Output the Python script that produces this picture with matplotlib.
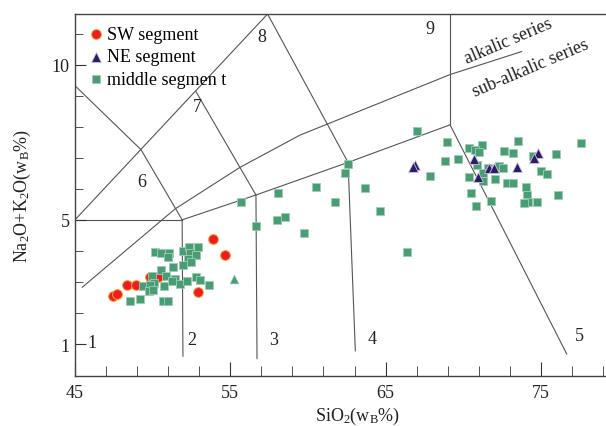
import matplotlib
matplotlib.use("Agg")
import matplotlib.pyplot as plt
from matplotlib.ticker import FixedLocator

plt.rcParams['font.family'] = ['Liberation Serif', 'DejaVu Serif']
plt.rcParams['mathtext.fontset'] = 'custom'
plt.rcParams['mathtext.rm'] = 'Liberation Serif'
plt.rcParams['mathtext.it'] = 'Liberation Serif:italic'

# samples (SiO2, Na2O+K2O)
sw_x = [53.87, 54.66, 52.94, 48.37, 48.91, 47.47, 47.69, 49.83, 50.36]
sw_y = [4.38, 3.86, 2.67, 2.90, 2.90, 2.54, 2.61, 3.17, 3.17]

ne_x = [66.89, 66.78, 70.71, 71.66, 72.00, 70.97, 73.48, 74.79, 74.58]
ne_y = [6.78, 6.71, 6.96, 6.67, 6.67, 6.37, 6.71, 7.14, 6.98]

mid_x = [50.15, 50.54, 51.07, 50.97, 51.97, 52.34, 52.94, 52.40, 52.79, 52.30,
         52.47, 51.93, 51.29, 50.52, 49.94, 50.84, 51.44, 51.23, 51.76, 52.19,
         52.77, 53.05, 53.63, 49.40, 50.11, 49.83, 50.75, 49.78, 50.04, 48.54,
         49.17, 50.69, 51.01,
         55.67, 58.05, 60.50, 56.64, 57.99, 58.52, 59.75, 61.72, 62.56, 62.39,
         63.65, 64.64, 66.36,
         67.00, 68.93, 68.83, 69.64, 67.86, 70.37, 71.19, 70.76, 71.01, 70.87,
         72.62, 73.18, 73.51, 74.47, 75.95, 77.56, 71.61, 72.32, 72.58, 71.29,
         70.37, 72.04, 71.25, 72.80, 73.18, 74.99, 75.37, 74.02, 70.48, 74.09,
         76.08, 71.77, 74.15, 73.91, 74.73, 70.80]
mid_y = [3.95, 3.92, 3.93, 3.79, 3.99, 4.12, 4.12, 3.92, 3.87, 3.74,
         3.63, 3.55, 3.47, 3.38, 3.20, 3.18, 3.09, 3.02, 2.93, 3.02,
         3.15, 3.06, 2.90, 2.86, 2.96, 2.90, 2.86, 2.70, 2.75, 2.38,
         2.44, 2.38, 2.38,
         5.57, 5.86, 6.05, 4.79, 4.99, 5.08, 4.57, 5.57, 6.79, 6.50,
         6.02, 5.28, 3.95,
         7.85, 7.50, 6.89, 6.95, 6.40, 7.30, 7.42, 7.25, 7.18, 6.78,
         7.21, 7.14, 7.53, 7.05, 7.11, 7.47, 6.67, 6.74, 6.67, 6.50,
         6.37, 6.32, 6.24, 6.18, 6.18, 6.56, 6.48, 6.05, 5.86, 5.80,
         5.79, 5.60, 5.58, 5.53, 5.57, 5.44]

# one middle-segment sample drawn as a green triangle
mid_tri_x = [55.24]
mid_tri_y = [3.09]

# field boundaries of the classification diagram
boundaries = [
    ([45.0, 49.25, 51.9], [9.32, 7.26, 5.0]),
    ([45.0, 57.4], [5.0, 11.63]),
    ([45.0, 51.9], [5.0, 5.0]),
    ([52.79, 56.65], [9.13, 5.80]),
    ([57.4, 62.58], [11.63, 6.85]),
    ([51.9, 56.65, 62.58, 69.15], [5.0, 5.80, 6.85, 8.06]),
    ([69.15, 69.15], [8.06, 11.63]),
    ([69.15, 76.66], [8.06, 0.68]),
    ([51.9, 51.95], [5.0, 0.61]),
    ([56.65, 56.72], [5.80, 0.53]),
    ([62.58, 63.05], [6.85, 0.78]),
]
# alkalic / sub-alkalic divide
divide_x = [45.47, 51.44, 55.62, 59.49, 69.15, 73.76]
divide_y = [2.83, 5.35, 6.69, 7.73, 9.68, 10.42]

field_labels = ['1', '2', '3', '4', '5', '6', '7', '8', '9']
field_x = [46.09, 52.53, 57.81, 64.12, 77.45, 49.31, 52.86, 57.04, 67.86]
field_y = [1.06, 1.16, 1.16, 1.19, 1.26, 6.25, 8.64, 10.92, 11.15]

fig = plt.figure(figsize=(6.06, 4.27), dpi=100)
ax = fig.add_axes([75 / 606, 50 / 427, 531 / 606, 362 / 427])

for bx, by in boundaries:
    ax.plot(bx, by, color='#555555', lw=0.8, zorder=1)
ax.plot(divide_x, divide_y, color='#555555', lw=0.8, zorder=1)

for lab, fx, fy in zip(field_labels, field_x, field_y):
    ax.text(fx, fy, lab, fontsize=13, ha='center', va='center', color='#222222')

ax.text(72.88, 10.79, 'alkalic series', fontsize=13, rotation=23,
        ha='center', va='center', color='#222222')
ax.text(74.30, 9.92, 'sub-alkalic series', fontsize=13, rotation=23,
        ha='center', va='center', color='#222222')

h1 = ax.scatter(sw_x, sw_y, s=50, marker='o', c='#EE1D25', edgecolors='#F6A531',
                linewidths=0.7, zorder=3, label='SW segment')
h3 = ax.scatter(mid_x, mid_y, s=36, marker='s', c='#4A9C74', edgecolors='#9CCDB2',
                linewidths=0.6, zorder=4, label='middle segmen t')
ax.scatter(mid_tri_x, mid_tri_y, s=40, marker='^', c='#4A9C74', edgecolors='#9CCDB2',
           linewidths=0.5, zorder=4)
h2 = ax.scatter(ne_x, ne_y, s=50, marker='^', c='#2D1B66', edgecolors='#C9C2E0',
                linewidths=0.6, zorder=5, label='NE segment')

ax.legend(handles=[h1, h2, h3], loc='upper left', bbox_to_anchor=(0.022, 0.968),
          frameon=False, fontsize=13, handletextpad=0.1, handlelength=1.0,
          labelspacing=0.32, borderaxespad=0, borderpad=0)

ax.set_xlim(45, 79.19)
ax.set_ylim(-0.03, 11.63)

ax.xaxis.set_major_locator(FixedLocator([45, 55, 65, 75]))
ax.xaxis.set_minor_locator(FixedLocator([47, 49, 51, 53, 57, 59, 61, 63, 67, 69, 71, 73, 77, 79]))
ax.yaxis.set_major_locator(FixedLocator([1, 5, 10]))
ax.yaxis.set_minor_locator(FixedLocator([2, 3, 4, 6, 7, 8, 9, 11]))
ax.tick_params(axis='both', which='both', direction='in', colors='#333333', labelsize=13,
               labelcolor='#222222')
ax.tick_params(axis='x', which='major', length=10, pad=6)
ax.tick_params(axis='x', which='minor', length=7)
ax.tick_params(axis='y', which='major', length=8, pad=4)
ax.tick_params(axis='y', which='minor', length=6)

ax.spines['right'].set_visible(False)
for side in ['left', 'bottom', 'top']:
    ax.spines[side].set_color('#444444')
    ax.spines[side].set_linewidth(1.0)

fig.text(358 / 606, 1 - 416 / 427, r'SiO$_2$(w$_{\rm B}$%)', fontsize=13,
         ha='center', va='center', color='#222222')
fig.text(22 / 606, 1 - 196 / 427, r'Na$_2$O+K$_2$O(w$_{\rm B}$%)', fontsize=13,
         ha='center', va='center', rotation=90, color='#222222')

fig.savefig('out.png', dpi=100)
